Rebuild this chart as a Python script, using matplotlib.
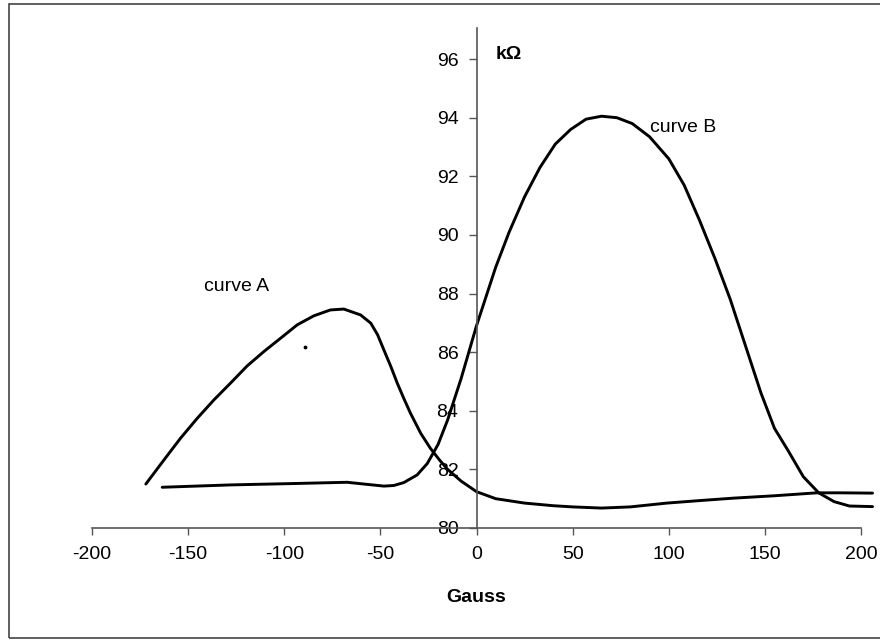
import matplotlib.pyplot as plt
from matplotlib.patches import Rectangle

plt.rcParams['font.family'] = ['Liberation Sans', 'DejaVu Sans']

# curve A: rises from the left, peak near -70, then falls and stays low
gauss_a = [-172, -162.6, -154, -145.3, -136.6, -128, -119.3, -110.6, -102, -93.3,
           -84.6, -76, -69, -60.3, -55, -51.5, -48.2, -44.5, -41.2, -37.8, -34.3,
           -29, -24, -19, -15, -8, 0, 10, 25, 40, 50, 65, 80, 99, 117, 134, 155,
           177, 190, 206]
kohm_a = [81.5, 82.32, 83.06, 83.74, 84.37, 84.94, 85.53, 86.02, 86.47, 86.93,
          87.24, 87.44, 87.47, 87.27, 86.99, 86.6, 86.08, 85.5, 84.94, 84.42, 83.91,
          83.23, 82.72, 82.3, 82.0, 81.6, 81.24, 81.0, 80.85, 80.76, 80.72, 80.68,
          80.72, 80.85, 80.94, 81.02, 81.1, 81.2, 81.2, 81.19]

# curve B: flat at first, big peak near +65
gauss_b = [-163.5, -128, -93.3, -67.3, -58.6, -48.2, -43, -37.8, -30.9, -25.6,
           -20, -15, -8, 0, 5, 10, 17, 25, 33, 41, 49, 57, 65, 73, 81, 90, 100,
           108, 116, 124, 132, 140, 148, 155, 162, 170, 178, 186, 194, 206]
kohm_b = [81.39, 81.47, 81.52, 81.56, 81.5, 81.43, 81.45, 81.55, 81.81, 82.2,
          82.85, 83.69, 85.1, 86.9, 87.9, 88.9, 90.1, 91.3, 92.3, 93.1, 93.6, 93.95,
          94.05, 94.0, 93.8, 93.35, 92.6, 91.7, 90.5, 89.2, 87.8, 86.2, 84.6, 83.4,
          82.65, 81.75, 81.2, 80.9, 80.75, 80.73]

# stray dot in the scan
dot_x = [-89]
dot_y = [86.18]

x_ticks = [-200, -150, -100, -50, 0, 50, 100, 150, 200]
y_ticks = [80, 82, 84, 86, 88, 90, 92, 94, 96]

fig = plt.figure(figsize=(8.8, 6.4), dpi=100)
ax = fig.add_axes([92 / 880, 1 - 528 / 640, (861 - 92) / 880, 500 / 640])

for gx, ky in [(gauss_a, kohm_a), (gauss_b, kohm_b)]:
    ax.plot(gx, ky, color='black', lw=2.1, clip_on=False,
            solid_joinstyle='round', solid_capstyle='round')
ax.scatter(dot_x, dot_y, s=3, color='black')

ax.set_xlim(-200, 200)
ax.set_ylim(80, 97.06)
ax.set_xticks(x_ticks)
ax.set_yticks(y_ticks)
ax.set_xticklabels([str(v) for v in x_ticks])

ax.spines['top'].set_visible(False)
ax.spines['right'].set_visible(False)
ax.spines['left'].set_position(('data', 0))
for s in ['left', 'bottom']:
    ax.spines[s].set_color('#555555')
    ax.spines[s].set_linewidth(1.2)

ax.tick_params(axis='both', labelsize=14, color='#555555', direction='out', width=1)
ax.tick_params(axis='x', length=5, pad=8)
ax.tick_params(axis='y', length=6, pad=7)

ax.text(10, 96.15, 'kΩ', fontsize=14, fontweight='bold', va='center', ha='left')
ax.text(-125, 88.23, 'curve A', fontsize=14, va='center', ha='center')
ax.text(107.7, 93.65, 'curve B', fontsize=14, va='center', ha='center')
fig.text(476 / 880, 1 - 597 / 640, 'Gauss', fontsize=14, fontweight='bold',
         ha='center', va='center')

# outer frame
fig.patches.append(Rectangle((9 / 880, 1 - 638 / 640), 880 / 880, 634 / 640,
                             transform=fig.transFigure, fill=False,
                             edgecolor='#444444', lw=1.2))

plt.savefig('out.png', dpi=100)
plt.close()
